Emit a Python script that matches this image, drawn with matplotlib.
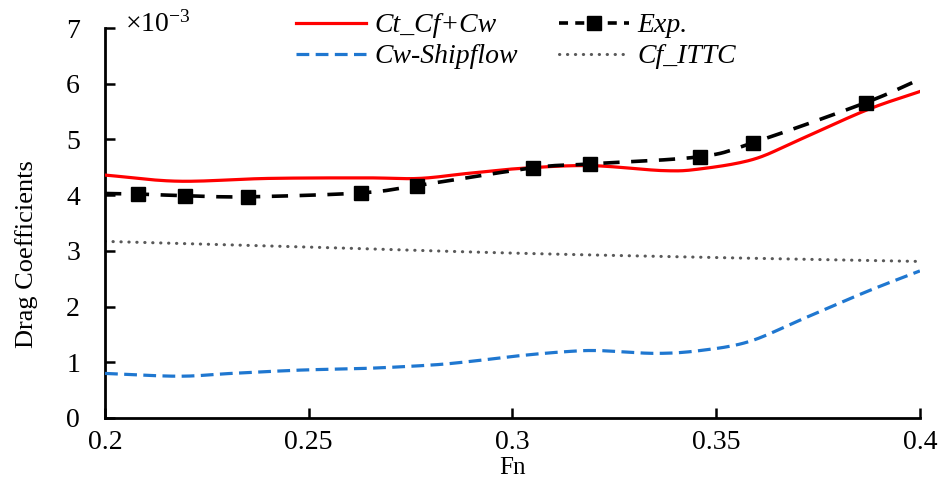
import numpy as np
import matplotlib
matplotlib.use("Agg")
import matplotlib.pyplot as plt

plt.rcParams['font.family'] = ['Liberation Serif', 'DejaVu Serif']
plt.rcParams['mathtext.fontset'] = 'custom'
plt.rcParams['mathtext.rm'] = 'Liberation Serif'
plt.rcParams['mathtext.it'] = 'Liberation Serif:italic'

# values in units of 1e-3
ct_fn = [0.200, 0.218, 0.240, 0.264, 0.277, 0.289, 0.302, 0.319, 0.337, 0.346, 0.359, 0.370, 0.387, 0.400]
ct_cd = [4.36, 4.25, 4.30, 4.31, 4.30, 4.39, 4.48, 4.53, 4.44, 4.47, 4.64, 4.98, 5.53, 5.86]

exp_fn = [0.208, 0.2196, 0.2351, 0.2628, 0.2765, 0.305, 0.319, 0.346, 0.359, 0.3867]
exp_cd = [4.02, 3.99, 3.97, 4.04, 4.17, 4.49, 4.56, 4.69, 4.94, 5.66]
exp_ends_fn = [0.200, 0.400]
exp_ends_cd = [4.03, 6.08]

cw_fn = [0.200, 0.218, 0.231, 0.248, 0.264, 0.280, 0.289, 0.302, 0.313, 0.321, 0.335, 0.346, 0.358, 0.371, 0.387, 0.400]
cw_cd = [0.80, 0.75, 0.80, 0.86, 0.89, 0.95, 1.01, 1.12, 1.19, 1.21, 1.16, 1.21, 1.37, 1.77, 2.27, 2.64]

cf_fn = [0.200, 0.2535, 0.300, 0.350, 0.400]
cf_cd = [3.17, 3.06, 2.96, 2.88, 2.81]


def smooth(x, y, n=20):
    # Catmull-Rom spline through the points, like a smoothed line
    x = np.asarray(x, float)
    y = np.asarray(y, float)
    px = np.concatenate([[2 * x[0] - x[1]], x, [2 * x[-1] - x[-2]]])
    py = np.concatenate([[2 * y[0] - y[1]], y, [2 * y[-1] - y[-2]]])
    t = np.linspace(0, 1, n, endpoint=False)
    xs, ys = [], []
    for i in range(1, len(px) - 2):
        for p, out in ((px, xs), (py, ys)):
            p0, p1, p2, p3 = p[i - 1], p[i], p[i + 1], p[i + 2]
            out.append(0.5 * (2 * p1 + (-p0 + p2) * t + (2 * p0 - 5 * p1 + 4 * p2 - p3) * t ** 2
                              + (-p0 + 3 * p1 - 3 * p2 + p3) * t ** 3))
    xs.append([x[-1]])
    ys.append([y[-1]])
    return np.concatenate(xs), np.concatenate(ys)


fig = plt.figure(figsize=(9.42, 4.87), dpi=100)
ax = fig.add_axes([0.1115, 0.1417, 0.865, 0.8008])

sx, sy = smooth(ct_fn, ct_cd)
ct_line, = ax.plot(sx, sy, color='#ff0000', lw=2.3, zorder=3)

ex = [exp_ends_fn[0]] + exp_fn + [exp_ends_fn[1]]
ey = [exp_ends_cd[0]] + exp_cd + [exp_ends_cd[1]]
sx, sy = smooth(ex, ey)
ax.plot(sx, sy, color='black', lw=2.6, ls=(0, (4.5, 3.2)), zorder=4)
ax.plot(exp_fn, exp_cd, ls='none', marker='s', ms=9.5, color='black', zorder=5)
exp_handle, = ax.plot([], [], color='black', lw=2.6, ls=(0, (2.5, 2.0)), marker='s', ms=9.5)

sx, sy = smooth(cw_fn, cw_cd)
cw_line, = ax.plot(sx, sy, color='#1f77d0', lw=2.3, ls=(0, (4, 2)), zorder=3)

sx, sy = smooth(cf_fn, cf_cd)
cf_line, = ax.plot(sx, sy, color='#595959', lw=2.2, ls=(0, (0.1, 2.5)),
                   dash_capstyle='round', zorder=2)

ax.set_xlim(0.2, 0.4)
ax.set_ylim(0, 7)
ax.set_xticks([0.2, 0.25, 0.3, 0.35, 0.4])
ax.set_xticklabels(['0.2', '0.25', '0.3', '0.35', '0.4'])
ax.set_yticks(range(8))
ax.tick_params(direction='in', labelsize=20, width=1.8, length=7)
ax.tick_params(axis='x', pad=9)
ax.tick_params(axis='y', pad=18)
for lab in ax.get_xticklabels() + ax.get_yticklabels():
    lab.set_fontfamily('Liberation Serif')
for s in ['top', 'right']:
    ax.spines[s].set_visible(False)
for s in ['left', 'bottom']:
    ax.spines[s].set_linewidth(2)

ax.set_xlabel('Fn', fontsize=18)
ax.xaxis.set_label_coords(0.5, -0.10)
ax.set_ylabel('Drag Coefficients', fontsize=19)
ax.yaxis.set_label_coords(-0.082, 0.42)
ax.text(0.025, 1.01, r'$\times10^{-3}$', transform=ax.transAxes, fontsize=20,
        ha='left', va='center')

handles = [ct_line, cw_line, exp_handle, cf_line]
labels = ['Ct_Cf+Cw', 'Cw-Shipflow', 'Exp.', 'Cf_ITTC']
fig.legend(handles, labels, ncol=2, loc='upper left', bbox_to_anchor=(0.288, 1.025),
           frameon=False, prop={'family': 'Liberation Serif', 'style': 'italic', 'size': 20},
           handlelength=2.5, handletextpad=0.3, columnspacing=1.5, labelspacing=0.2)

fig.savefig('out.png', dpi=100)
